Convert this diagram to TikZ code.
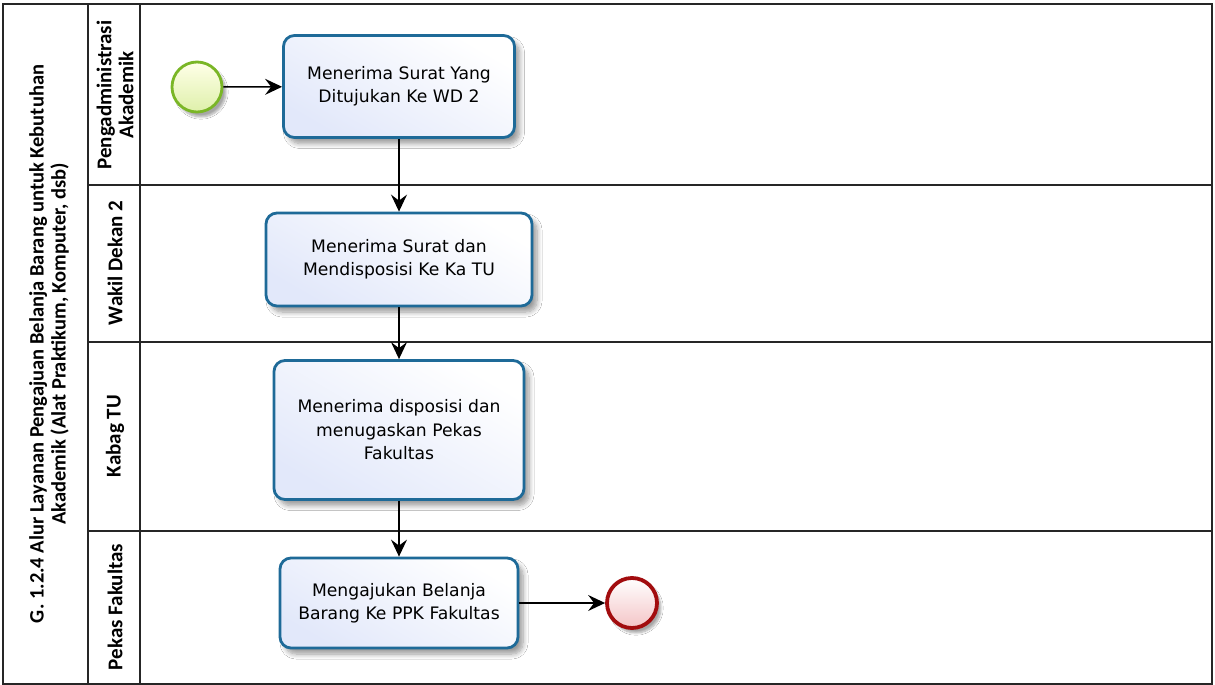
\documentclass[tikz,border=0pt]{standalone}
\usepackage{fontspec}
\setmainfont{DejaVu Sans}
\newfontfamily\labelfont{Carlito}
\usetikzlibrary{arrows.meta,shadows.blur,positioning}
\definecolor{taskborder}{RGB}{30,106,152}
\definecolor{taskfill}{RGB}{226,232,250}
\definecolor{startborder}{RGB}{122,182,38}
\definecolor{startfill}{RGB}{222,240,170}
\definecolor{endborder}{RGB}{162,12,14}
\definecolor{endfill}{RGB}{244,196,198}
\tikzset{
  lanebox/.style={draw=black!85, line width=1.2pt},
  task/.style={draw=taskborder, line width=2.8pt, rounded corners=11pt,
    top color=white, bottom color=taskfill, shading angle=-30,
    blur shadow={shadow xshift=5pt, shadow yshift=-6pt, shadow opacity=40, shadow blur steps=8, shadow blur radius=5pt},
    align=center, font=\fontsize{17.2}{23.5}\selectfont, inner sep=0pt},
  startev/.style={circle, draw=startborder, line width=2.8pt, minimum size=50pt,
    inner sep=0pt, top color=white!70!yellow!30, bottom color=startfill,
    blur shadow={shadow xshift=4pt, shadow yshift=-5pt, shadow opacity=35, shadow blur steps=8}},
  endev/.style={circle, draw=endborder, line width=3.8pt, minimum size=50pt,
    inner sep=0pt, top color=white, bottom color=endfill,
    blur shadow={shadow xshift=4pt, shadow yshift=-5pt, shadow opacity=35, shadow blur steps=8}},
  flow/.style={draw=black, line width=1.6pt, -{Stealth[length=17pt,width=16pt,inset=6pt]}},
  lanelabel/.style={rotate=90, align=center, font=\labelfont\bfseries\fontsize{21}{22}\selectfont, inner sep=0pt},
  poollabel/.style={rotate=90, align=center, font=\labelfont\bfseries\fontsize{20.5}{22}\selectfont, inner sep=0pt},
}
\begin{document}
\begin{tikzpicture}[x=1pt,y=-1pt]
\useasboundingbox (0,0) rectangle (1215,685);
\fill[white] (0,0) rectangle (1215,685);
% pool and lanes
\draw[lanebox] (3,4) rectangle (1212,684);
\draw[lanebox] (88,4) -- (88,684);
\draw[lanebox] (140,4) -- (140,684);
\draw[lanebox] (88,185) -- (1212,185);
\draw[lanebox] (88,342) -- (1212,342);
\draw[lanebox] (88,531) -- (1212,531);
% titles
\node[poollabel] (pool) at (49,344) {G. 1.2.4 Alur Layanan Pengajuan Belanja Barang untuk Kebutuhan\\Akademik (Alat Praktikum, Komputer, dsb)};
\node[lanelabel] (l1) at (115,95) {Pengadministrasi\\Akademik};
\node[lanelabel] (l2) at (115,263) {Wakil Dekan 2};
\node[lanelabel] (l3) at (115,436) {Kabag TU};
\node[lanelabel] (l4) at (115,607) {Pekas Fakultas};
% events and tasks
\node[startev] (start) at (197,87) {};
\node[task, minimum width=231pt, minimum height=102pt] (t1) at (399,86.5) {Menerima Surat Yang\\Ditujukan Ke WD 2};
\node[task, minimum width=266pt, minimum height=93pt] (t2) at (399,259.5) {Menerima Surat dan\\Mendisposisi Ke Ka TU};
\node[task, minimum width=250pt, minimum height=139pt] (t3) at (399,430) {Menerima disposisi dan\\menugaskan Pekas\\Fakultas};
\node[task, minimum width=238pt, minimum height=90pt] (t4) at (399,603) {Mengajukan Belanja\\Barang Ke PPK Fakultas};
\node[endev] (end) at (632,603) {};
% sequence flows
\draw[flow] (start) -- (t1);
\draw[flow] (t1) -- (t2);
\draw[flow] (t2) -- (t3);
\draw[flow] (t3) -- (t4);
\draw[flow] (t4) -- (end);
\end{tikzpicture}
\end{document}
